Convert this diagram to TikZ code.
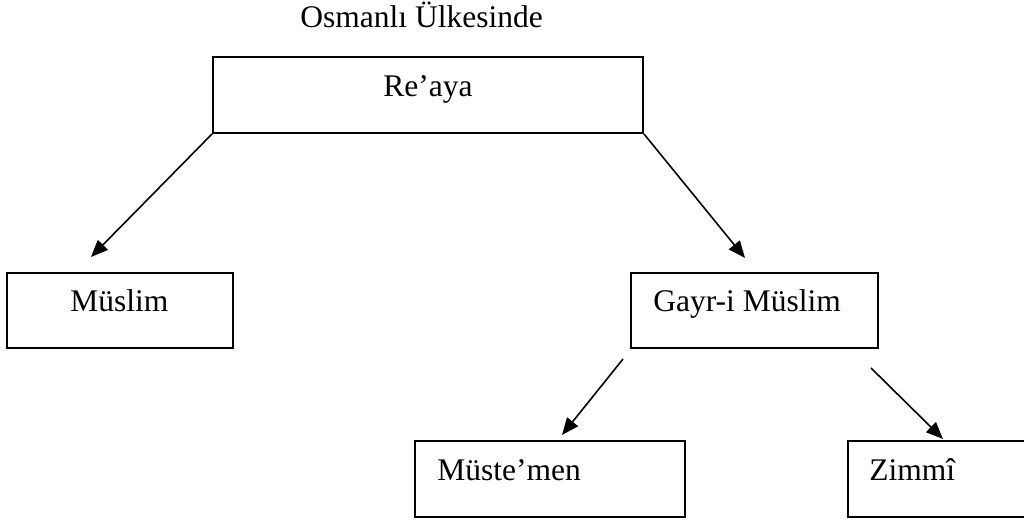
\documentclass[tikz,border=0pt]{standalone}
\usepackage{fontspec}
\setmainfont{Liberation Serif}
\usetikzlibrary{arrows.meta}
\begin{document}
\begin{tikzpicture}[x=0.5pt,y=-0.5pt,
  box/.style={draw=black,line width=1pt,rectangle,inner sep=0pt,fill=none},
  lbl/.style={inner sep=0pt,anchor=base west,font=\fontsize{15.75}{18}\selectfont},
  conn/.style={line width=0.8pt,-{Triangle[length=8.5pt,width=7pt]}}]
\useasboundingbox[fill=white] (0,0) rectangle (1024,523);
% boxes
\node[box,minimum width=215pt,minimum height=38pt] (reaya) at (428,95) {};
\node[box,minimum width=113pt,minimum height=37.5pt] (muslim) at (120,310.5) {};
\node[box,minimum width=123.5pt,minimum height=37.5pt] (gayr) at (754.5,310.5) {};
\node[box,minimum width=135pt,minimum height=38pt] (mustemen) at (550,479) {};
\node[box,minimum width=96pt,minimum height=38pt] (zimmi) at (944,479) {};
% texts
\node[lbl] (title) at (300,28) {Osmanlı Ülkesinde};
\node[lbl] (treaya) at (383,97) {Re’aya};
\node[lbl] (tmuslim) at (70,312) {Müslim};
\node[lbl] (tgayr) at (653,312) {Gayr-i Müslim};
\node[lbl] (tmustemen) at (437,481) {Müste’men};
\node[lbl] (tzimmi) at (869,481) {Zimmî};
% connector free ends
\coordinate (e1) at (91,257);
\coordinate (e2) at (745,258);
\coordinate (s3) at (623,359);
\coordinate (e3) at (562,435);
\coordinate (s4) at (871,368);
\coordinate (e4) at (943,439);
\draw[conn] (reaya.south west) -- (e1);
\draw[conn] (reaya.south east) -- (e2);
\draw[conn] (s3) -- (e3);
\draw[conn] (s4) -- (e4);
\end{tikzpicture}
\end{document}
